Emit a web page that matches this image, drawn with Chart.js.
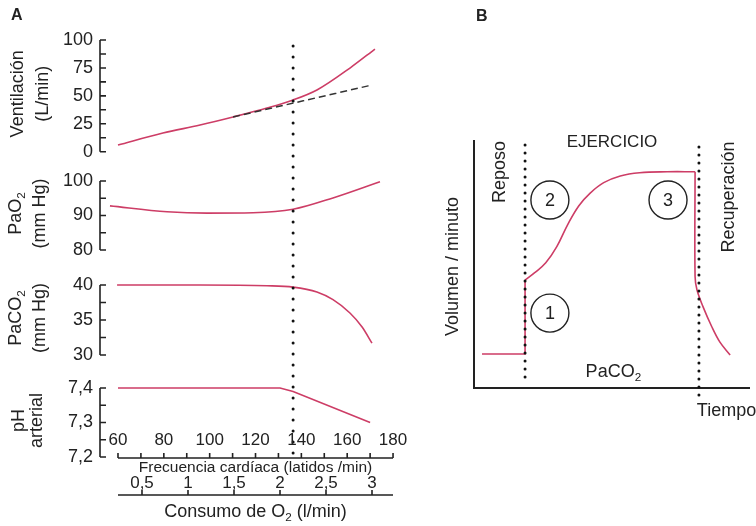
<!DOCTYPE html>
<html>
<head>
<meta charset="utf-8">
<script src="https://cdn.jsdelivr.net/npm/chart.js@4.4.1/dist/chart.umd.min.js"></script>
<style>
  body { margin: 0; background: #fff; }
  #wrap { position: relative; width: 756px; height: 526px; overflow: hidden; background: #fff; }
  canvas { position: absolute; top: 0; }
</style>
</head>
<body>
<div id="wrap">
  <canvas id="chartA" width="420" height="526" style="left:0"></canvas>
  <canvas id="chartB" width="336" height="526" style="left:420px"></canvas>
</div>
<script>
//----------------------
// Data
//----------------------

// Panel A: x = frecuencia cardíaca (latidos/min)
const ventHR  = [60, 79.6, 95.8, 110.2, 125, 136.4, 146.8, 161.2, 172.1];
const ventVal = [6, 16.7, 23.9, 31.1, 39.1, 46.3, 55.2, 74.9, 91.9];
const ventLinHR  = [110.2, 170.8];   // dashed extrapolation
const ventLinVal = [31.1, 59.7];

const pao2HR  = [56.5, 81.4, 98.8, 118.9, 136.4, 153.8, 174.3];
const pao2Val = [92.8, 91.1, 90.7, 90.8, 91.8, 95.1, 99.8];

const paco2HR  = [59.6, 95.8, 125, 136.4, 146.8, 153.8, 161.2, 166.5, 170.8];
const paco2Val = [40, 40, 39.9, 39.7, 39.0, 37.9, 36.0, 34.0, 31.7];

const phHR  = [60, 130.7, 136.4, 170];
const phVal = [7.4, 7.4, 7.39, 7.3];

const thresholdHR = 136.4;

const ventTicks  = [0, 25, 50, 75, 100];
const pao2Ticks  = [80, 90, 100];
const paco2Ticks = [30, 35, 40];
const phTicks    = [7.2, 7.3, 7.4];
const hrTicks    = [60, 80, 100, 120, 140, 160, 180];
const o2Ticks    = [0.5, 1, 1.5, 2, 2.5, 3];

// Panel B: arbitrary time units, volumen/minuto in arbitrary units
const restT = [2.9, 18.5, 18.5];
const restV = [13.7, 13.7, 43.5];
const exerT = [18.5, 22, 26, 30, 34, 38, 42, 47, 53, 60, 70, 80.1];
const exerV = [43.5, 46.5, 50.5, 57, 66, 73.5, 78.5, 82.8, 85.5, 86.8, 87.2, 87.2];
const recT = [80.1, 80.1, 80.8, 83, 86.2, 89.1, 92.8];
const recV = [87.2, 45, 39.5, 32.7, 24.6, 18.5, 13.3];
const phaseT = [18.5, 81.5];   // Reposo | Ejercicio | Recuperación

//----------------------
// Helpers
//----------------------

const FONT = '"Liberation Sans", Arial, Helvetica, sans-serif';
const RED = '#cd3d66';
const INK = '#222';
Chart.defaults.font.family = FONT;

const fmt = v => String(v).replace('.', ',');
const xy = (xs, ys) => xs.map((x, i) => ({ x: x, y: ys[i] }));

// text with optional subscript parts: [['PaO'], ['2', true]]
function richText(ctx, parts, x, y, size, align) {
  let w = 0;
  parts.forEach(p => {
    ctx.font = (p[1] ? size * 0.65 : size) + 'px ' + FONT;
    w += ctx.measureText(p[0]).width;
  });
  let cx = align === 'left' ? x : x - w / 2;
  ctx.textAlign = 'left';
  ctx.textBaseline = 'middle';
  parts.forEach(p => {
    const s = p[1] ? size * 0.65 : size;
    ctx.font = s + 'px ' + FONT;
    ctx.fillText(p[0], cx, p[1] ? y + size * 0.32 : y);
    cx += ctx.measureText(p[0]).width;
  });
}

function rotText(ctx, parts, x, y, size) {
  ctx.save();
  ctx.translate(x, y);
  ctx.rotate(-Math.PI / 2);
  richText(ctx, parts, 0, 0, size);
  ctx.restore();
}

function dotted(ctx, x, y0, y1, gap) {
  ctx.save();
  ctx.strokeStyle = '#111';
  ctx.lineWidth = 3;
  ctx.lineCap = 'round';
  ctx.setLineDash([0, gap]);
  ctx.beginPath();
  ctx.moveTo(x, y0);
  ctx.lineTo(x, y1);
  ctx.stroke();
  ctx.restore();
}

//----------------------
// Panel A
//----------------------

function yAxis(ticks, min, max, weight, fmtFn) {
  return {
    type: 'linear', position: 'left', stack: 'A', stackWeight: weight,
    min: min, max: max,
    grid: { display: false, drawTicks: false },
    border: { display: false },
    afterFit: s => { s.width = 100; },
    afterBuildTicks: s => { s.ticks = ticks.map(v => ({ value: v })); },
    ticks: { autoSkip: false, padding: 7, color: INK, font: { size: 18 }, callback: fmtFn || (v => fmt(v)) }
  };
}

const brackets = [
  { id: 'yV',  ticks: ventTicks,  title: [[['Ventilación']], [['(L/min)']]], tx: [18, 43] },
  { id: 'yO2', ticks: pao2Ticks,  title: [[['PaO'], ['2', true]], [['(mm Hg)']]], tx: [16, 40] },
  { id: 'yCO2', ticks: paco2Ticks, title: [[['PaCO'], ['2', true]], [['(mm Hg)']]], tx: [16, 40] },
  { id: 'yPH', ticks: phTicks,    title: [[['pH']], [['arterial']]], tx: [19, 37] }
];

const panelA = {
  id: 'panelA',
  afterDraw(chart) {
    const ctx = chart.ctx;
    const area = chart.chartArea;
    const x = chart.scales.x;
    const x2 = chart.scales.x2;
    ctx.save();
    ctx.fillStyle = INK;
    ctx.strokeStyle = INK;

    // bracket y axes with inward ticks
    brackets.forEach(b => {
      const s = chart.scales[b.id];
      const lo = b.ticks[0], hi = b.ticks[b.ticks.length - 1];
      const step = (b.ticks[1] - b.ticks[0]) / 2;
      const left = area.left;
      ctx.lineWidth = 1.6;
      ctx.beginPath();
      ctx.moveTo(left, s.getPixelForValue(hi));
      ctx.lineTo(left, s.getPixelForValue(lo));
      for (let v = lo; v <= hi + step / 10; v += step) {
        const py = s.getPixelForValue(v);
        ctx.moveTo(left, py);
        ctx.lineTo(left + 6, py);
      }
      ctx.stroke();
      const mid = (s.getPixelForValue(hi) + s.getPixelForValue(lo)) / 2;
      rotText(ctx, b.title[0], b.tx[0], mid - 2, 18);
      rotText(ctx, b.title[1], b.tx[1], mid - 2, 18);
    });

    // threshold
    dotted(ctx, x.getPixelForValue(thresholdHR), area.top + 6, area.bottom + 6, 11);

    // heart rate axis
    const hrY = chart.scales.yPH.getPixelForValue(7.2) + 1;
    const hx0 = x.getPixelForValue(hrTicks[0]);
    const hx1 = x.getPixelForValue(hrTicks[hrTicks.length - 1]);
    ctx.lineWidth = 1.6;
    ctx.beginPath();
    ctx.moveTo(hx0, hrY);
    ctx.lineTo(hx1, hrY);
    for (let v = hrTicks[0]; v <= hrTicks[hrTicks.length - 1]; v += 10) {
      const px = x.getPixelForValue(v);
      ctx.moveTo(px, hrY);
      ctx.lineTo(px, hrY - 5);
    }
    ctx.stroke();
    hrTicks.forEach(v => richText(ctx, [[String(v)]], x.getPixelForValue(v), hrY - 18, 17));
    richText(ctx, [['Frecuencia cardíaca (latidos /min)']], x.getPixelForValue(120), hrY + 10, 15.5);

    // O2 consumption axis
    const o2Y = hrY + 37;
    ctx.beginPath();
    ctx.moveTo(hx0, o2Y);
    ctx.lineTo(hx1, o2Y);
    o2Ticks.forEach(v => {
      const px = x2.getPixelForValue(v);
      ctx.moveTo(px, o2Y);
      ctx.lineTo(px, o2Y - 5);
    });
    ctx.stroke();
    o2Ticks.forEach(v => richText(ctx, [[fmt(v)]], x2.getPixelForValue(v), o2Y - 12, 17));
    richText(ctx, [['Consumo de O'], ['2', true], [' (l/min)']], x.getPixelForValue(120), o2Y + 17, 18);

    // panel letter
    ctx.font = 'bold 16px ' + FONT;
    ctx.textAlign = 'left';
    ctx.textBaseline = 'middle';
    ctx.fillText('A', 11, 16);
    ctx.restore();
  }
};

const lineStyle = (axis, extra) => Object.assign({
  yAxisID: axis, borderColor: RED, borderWidth: 1.6, pointRadius: 0,
  fill: false, cubicInterpolationMode: 'monotone'
}, extra || {});

new Chart(document.getElementById('chartA'), {
  type: 'line',
  data: {
    datasets: [
      lineStyle('yV', { data: xy(ventLinHR, ventLinVal), borderColor: '#333', borderWidth: 1.5, borderDash: [7, 4] }),
      lineStyle('yV', { data: xy(ventHR, ventVal) }),
      lineStyle('yO2', { data: xy(pao2HR, pao2Val) }),
      lineStyle('yCO2', { data: xy(paco2HR, paco2Val) }),
      lineStyle('yPH', { data: xy(phHR, phVal), cubicInterpolationMode: 'default', tension: 0 })
    ]
  },
  options: {
    responsive: false,
    animation: false,
    layout: { padding: { left: 0, right: 10, top: 40, bottom: 69 }, autoPadding: false },
    plugins: { legend: { display: false }, tooltip: { enabled: false } },
    scales: {
      x: { type: 'linear', min: 52.15, max: 187.4, display: false },
      x2: { type: 'linear', min: 0.0435, max: 3.413, display: false },
      // stacked left axes: the last one listed is placed on top
      yPH: yAxis(phTicks, 7.2, 7.4493, 86, v => v.toFixed(1).replace('.', ',')),
      yCO2: yAxis(paco2Ticks, 27.71, 42.43, 103),
      yO2: yAxis(pao2Ticks, 74.78, 104.35, 102),
      yV: yAxis(ventTicks, -12.8, 100, 126)
    }
  },
  plugins: [panelA]
});

//----------------------
// Panel B
//----------------------

const panelB = {
  id: 'panelB',
  afterDraw(chart) {
    const ctx = chart.ctx;
    const area = chart.chartArea;
    const x = chart.scales.x;
    const y = chart.scales.y;
    ctx.save();
    ctx.fillStyle = INK;
    ctx.strokeStyle = INK;

    // L shaped axes
    ctx.lineWidth = 2;
    ctx.beginPath();
    ctx.moveTo(area.left, area.top);
    ctx.lineTo(area.left, area.bottom);
    ctx.lineTo(area.right, area.bottom);
    ctx.stroke();

    dotted(ctx, x.getPixelForValue(phaseT[0]), area.top + 5, area.bottom - 7, 8);
    dotted(ctx, x.getPixelForValue(phaseT[1]), area.top + 7, area.bottom + 9, 8);

    richText(ctx, [['EJERCICIO']], x.getPixelForValue(50), area.top + 2, 17);
    rotText(ctx, [['Reposo']], x.getPixelForValue(9.4), area.top + 32, 18);
    rotText(ctx, [['Recuperación']], x.getPixelForValue(92.4), area.top + 57, 18);
    rotText(ctx, [['Volumen / minuto']], area.left - 21, y.getPixelForValue(49), 18);
    richText(ctx, [['PaCO'], ['2', true]], x.getPixelForValue(50.5), area.bottom - 16, 18);
    richText(ctx, [['Tiempo']], x.getPixelForValue(91.5), area.bottom + 23, 18);

    // numbered circles
    [['1', 27.5, 30.2], ['2', 27.5, 75.8], ['3', 70.3, 75.8]].forEach(c => {
      const cx = x.getPixelForValue(c[1]);
      const cy = y.getPixelForValue(c[2]);
      ctx.lineWidth = 1.4;
      ctx.beginPath();
      ctx.arc(cx, cy, 19, 0, Math.PI * 2);
      ctx.stroke();
      richText(ctx, [[c[0]]], cx, cy + 1, 18);
    });

    ctx.font = 'bold 16px ' + FONT;
    ctx.textAlign = 'left';
    ctx.textBaseline = 'middle';
    ctx.fillText('B', 56, 17);
    ctx.restore();
  }
};

new Chart(document.getElementById('chartB'), {
  type: 'line',
  data: {
    datasets: [
      { data: xy(restT, restV), borderColor: RED, borderWidth: 1.6, pointRadius: 0, tension: 0 },
      { data: xy(exerT, exerV), borderColor: RED, borderWidth: 1.6, pointRadius: 0, tension: 0.4 },
      { data: xy(recT, recV), borderColor: RED, borderWidth: 1.6, pointRadius: 0, tension: 0.35 }
    ]
  },
  options: {
    responsive: false,
    animation: false,
    layout: { padding: { left: 54, right: 6, top: 140, bottom: 138 }, autoPadding: false },
    plugins: { legend: { display: false }, tooltip: { enabled: false } },
    scales: {
      x: { type: 'linear', min: 0, max: 100, display: false },
      y: { type: 'linear', min: 0, max: 100, display: false }
    }
  },
  plugins: [panelB]
});
</script>
</body>
</html>
